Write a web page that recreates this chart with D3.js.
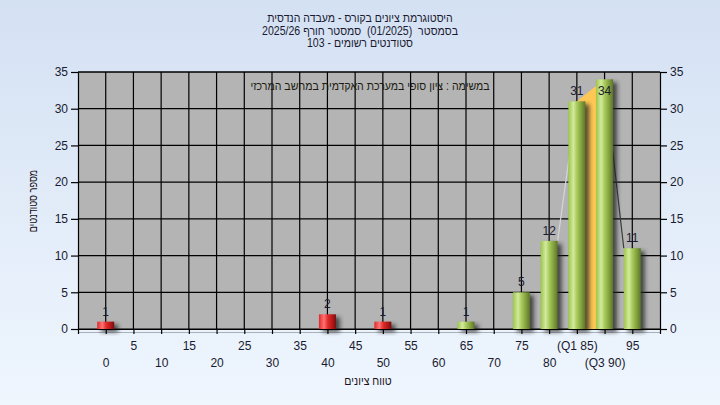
<!DOCTYPE html>
<html><head><meta charset="utf-8">
<script src="https://cdn.jsdelivr.net/npm/d3@7"></script>
<style>html,body{margin:0;padding:0;overflow:hidden}svg{display:block}</style>
</head><body>
<script>
// ---- data ----
const categories = ["0","5","10","15","20","25","30","35","40","45","50","55","60","65","70","75","80","85","90","95"];
const counts     = [1,0,0,0,0,0,0,0,2,0,1,0,0,1,0,5,12,31,34,11];
const tickLabels = ["0","5","10","15","20","25","30","35","40","45","50","55","60","65","70","75","80","(Q1 85)","(Q3 90)","95"];
const yTicks = [0,5,10,15,20,25,30,35];
const passGrade = 55;
const q1Cat = "85", q3Cat = "90";
const titleLines = ["היסטוגרמת ציונים בקורס - מעבדה הנדסית", "בסמסטר  (01/2025)  סמסטר חורף 2025/26", "סטודנטים רשומים - 103"];
const noteText = "במשימה : ציון סופי במערכת האקדמית במחשב המרכזי";
const xTitle = "טווח ציונים";
const yTitle = "מספר סטודנטים";

// ---- layout ----
const W = 720, H = 405;
const L = 78, R = 660, T = 72, B = 329;
const font = "'Liberation Sans', Arial, sans-serif";
const txt = "#1a1a30";
const sx = 0.88; // narrow Hebrew face

const svg = d3.select("body").append("svg").attr("width", W).attr("height", H)
  .style("font-family", font);
const defs = svg.append("defs");
const bg = defs.append("linearGradient").attr("id","bg").attr("x1",0).attr("y1",0).attr("x2",0).attr("y2",1);
bg.append("stop").attr("offset","0%").attr("stop-color","#d4e1f3");
bg.append("stop").attr("offset","100%").attr("stop-color","#eff6fe");
function cyl(id, stops){
  const g = defs.append("linearGradient").attr("id",id).attr("x1",0).attr("y1",0).attr("x2",1).attr("y2",0);
  stops.forEach(s=>g.append("stop").attr("offset",s[0]).attr("stop-color",s[1]));
}
cyl("green", [["0%","#9cc64a"],["30%","#d2ea9e"],["50%","#a9cb5c"],["78%","#7f9e3c"],["100%","#5c7529"]]);
cyl("red",   [["0%","#e02a2a"],["30%","#ff7474"],["52%","#e42a2a"],["80%","#b01818"],["100%","#7a0c0c"]]);
const blur = defs.append("filter").attr("id","sh").attr("x","-50%").attr("y","-50%").attr("width","200%").attr("height","200%");
blur.append("feGaussianBlur").attr("stdDeviation",2);

svg.append("rect").attr("width",W).attr("height",H).attr("fill","url(#bg)");

const x = d3.scalePoint().domain(categories).range([L, R]).padding(1);
const y = d3.scaleLinear().domain([0, 35]).range([B, T]);
const data = categories.map((c,i)=>({c, v: counts[i], lab: tickLabels[i]}));
const bw = 17;

// plot area
svg.append("rect").attr("x",L).attr("y",T).attr("width",R-L).attr("height",B-T).attr("fill","#b4b4b4");

// grid
const grid = svg.append("g").attr("stroke","#000").attr("stroke-width",1.2);
grid.selectAll(".gx").data(categories).join("line")
  .attr("x1",d=>x(d)).attr("x2",d=>x(d)).attr("y1",T).attr("y2",B);
grid.selectAll(".gy").data(yTicks).join("line")
  .attr("x1",L).attr("x2",R).attr("y1",d=>y(d)).attr("y2",d=>y(d));

// quartile area
const vq1 = counts[categories.indexOf(q1Cat)], vq3 = counts[categories.indexOf(q3Cat)];
svg.append("path").attr("fill","#ffc855")
  .attr("d", d3.line()([[x(q1Cat), y(vq1)], [x(q3Cat), y(vq3)], [x(q3Cat), y(0)], [x(q1Cat), y(0)]]) + "Z");

// connecting lines
const iq1 = categories.indexOf(q1Cat), iq3 = categories.indexOf(q3Cat);
const prev = categories[iq1-1], next = categories[iq3+1];
svg.append("line").attr("stroke","#d6d6d6").attr("stroke-width",1.2)
  .attr("x1", x(prev)+bw/2).attr("y1", y(counts[iq1-1])).attr("x2", x(q1Cat)).attr("y2", y(vq1));
svg.append("line").attr("stroke","#3a3a3a").attr("stroke-width",1.2)
  .attr("x1", x(q3Cat)).attr("y1", y(vq3)).attr("x2", x(next)-bw/2).attr("y2", y(counts[iq3+1]));

// axis shadow line
svg.append("line").attr("x1",L).attr("x2",R).attr("y1",B+3.5).attr("y2",B+3.5).attr("stroke","#a8b0ba").attr("stroke-width",1);

// bars
const bars = data.filter(d=>d.v>0);
svg.append("g").selectAll("rect").data(bars).join("rect")
  .attr("x",d=>x(d.c)-bw/2+4).attr("y",d=>y(d.v)+3).attr("width",bw).attr("height",d=>y(0)-y(d.v))
  .attr("fill","#222").attr("opacity",0.75).attr("filter","url(#sh)");
svg.append("g").selectAll("rect").data(bars).join("rect")
  .attr("x",d=>x(d.c)-bw/2).attr("y",d=>y(d.v)).attr("width",bw).attr("height",d=>y(0)-y(d.v))
  .attr("fill",d=> +d.c < passGrade ? "url(#red)" : "url(#green)");

// value labels
svg.append("g").selectAll("text").data(bars).join("text")
  .attr("x",d=>x(d.c)).attr("y",d=>Math.max(y(d.v)-6, 95))
  .attr("text-anchor","middle").attr("font-size",12).attr("fill",txt).text(d=>d.v);

// axes
const styleAxis = g => { g.selectAll("path,line").attr("stroke","#000").attr("stroke-width",1.2);
  g.selectAll("text").attr("font-size",12).attr("fill",txt).attr("font-family",font); };
svg.append("g").attr("transform",`translate(${L},0)`)
  .call(d3.axisLeft(y).tickValues(yTicks).tickSize(7).tickPadding(3).tickSizeOuter(0)).call(styleAxis);
svg.append("g").attr("transform",`translate(${R},0)`)
  .call(d3.axisRight(y).tickValues(yTicks).tickSize(7).tickPadding(3).tickSizeOuter(0)).call(styleAxis);
const xa = svg.append("g").attr("transform",`translate(0,${B})`)
  .call(d3.axisBottom(x).tickSize(5).tickSizeOuter(5).tickFormat((d,i)=>tickLabels[i])).call(styleAxis);
xa.selectAll(".tick text").attr("y",(d,i)=> i%2 ? 12.5 : 29);
svg.append("line").attr("x1",L).attr("x2",R).attr("y1",T).attr("y2",T).attr("stroke","#000").attr("stroke-width",1.2);

// Hebrew texts (narrow face)
function heb(t, cx, cy, scale, rot, color){
  return svg.append("text").attr("transform",`translate(${cx},${cy}) rotate(${rot||0}) scale(${scale},1)`)
    .attr("text-anchor","middle").attr("direction","rtl").style("white-space","pre")
    .attr("font-size",12).attr("fill",color||txt).text(t);
}
titleLines.forEach((t,i)=>heb(t, 360, 22+i*12.7, sx));
heb(noteText, 370, 89.5, sx, 0, "#201a10");
heb(xTitle, 368, 384.5, sx, 0, "#201020");
heb(yTitle, 37, 201, 0.76, -90, "#201020");
</script>
</body></html>
